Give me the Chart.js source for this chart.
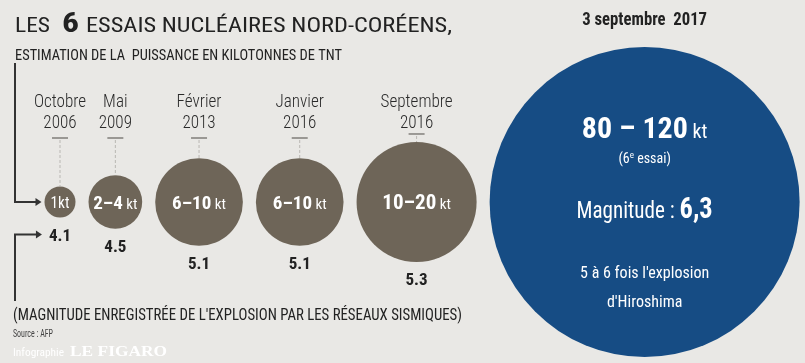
<!DOCTYPE html>
<html><head><meta charset="utf-8">
<script src="https://cdn.jsdelivr.net/npm/chart.js@4"></script>
<style>html,body{margin:0;padding:0;background:#e9e8e5;}canvas{display:block}</style>
</head><body><canvas id="c" width="805" height="363"></canvas>
<script>
// ---- data ----
const testMonths = ["Octobre", "Mai", "Février", "Janvier", "Septembre", "3 septembre"];
const testYears = ["2006", "2009", "2013", "2016", "2016", "2017"];
const yieldLow = [1, 2, 6, 6, 10, 80];      // kt
const yieldHigh = [1, 4, 10, 10, 20, 120];  // kt
const magnitudes = [4.1, 4.5, 5.1, 5.1, 5.3, 6.3];
const testOrder = [1, 2, 3, 4, 5, 6];

// ---- style ----
const BROWN = '#6e6558', BLUE = '#164c84', BG = '#e9e8e5', INK = '#222222';
const F = '"Roboto Condensed", Roboto, "Liberation Sans", sans-serif';
const K = 15.5;     // px per sqrt(kt): circle area proportional to yield
const GAP = 13, START = 60;
const CY = 0;

const radii = yieldLow.map((l, i) => K * Math.sqrt((l + yieldHigh[i]) / 2));
const xs = [];
radii.forEach((r, i) => xs.push(i === 0 ? START : xs[i - 1] + radii[i - 1] + r + GAP));
const points = xs.map((x, i) => ({ x: x, y: CY, r: radii[i] }));
const last = points.length - 1;

function txt(ctx, s, x, y, font, color, align, sx) {
  sx = sx || 1; align = align || 'left';
  ctx.save(); ctx.font = font; ctx.fillStyle = color; ctx.textBaseline = 'alphabetic'; ctx.textAlign = 'left';
  const w = ctx.measureText(s).width * sx;
  const x0 = align === 'center' ? x - w / 2 : align === 'right' ? x - w : x;
  ctx.translate(x0, y); ctx.scale(sx, 1); ctx.fillText(s, 0, 0); ctx.restore();
  return w;
}
function fit(ctx, s, x, y, font, color, width) {
  ctx.save(); ctx.font = font; const w = ctx.measureText(s).width; ctx.restore();
  return txt(ctx, s, x, y, font, color, 'left', width / w);
}
function width(ctx, s, font, sx) { ctx.save(); ctx.font = font; const w = ctx.measureText(s).width; ctx.restore(); return w * (sx || 1); }
function runs(ctx, parts, x, y, color, sx) {
  const total = parts.reduce((a, p) => a + width(ctx, p[0], p[1], sx), 0);
  let cx = x - total / 2;
  parts.forEach(p => { cx += txt(ctx, p[0], cx, y + (p[2] || 0), p[1], color, 'left', sx); });
}
function arrow(ctx, x, y) {
  ctx.beginPath(); ctx.moveTo(x, y); ctx.lineTo(x - 6, y - 4); ctx.lineTo(x - 6, y + 4); ctx.closePath(); ctx.fill();
}

const bgPlugin = {
  id: 'bg',
  beforeDraw(chart) { const c = chart.ctx; c.save(); c.fillStyle = BG; c.fillRect(0, 0, chart.width, chart.height); c.restore(); }
};

const textPlugin = {
  id: 'texts',
  afterDatasetsDraw(chart) {
    const ctx = chart.ctx;
    const els = chart.getDatasetMeta(0).data;
    fit(ctx, 'LES', 15, 32, '400 21px ' + F, INK, 35);
    fit(ctx, String(testOrder.length), 62, 32, '700 27px ' + F, INK, 17);
    fit(ctx, 'ESSAIS NUCLÉAIRES NORD-CORÉENS,', 86, 32, '400 21px ' + F, INK, 366);
    fit(ctx, 'ESTIMATION DE LA  PUISSANCE EN KILOTONNES DE TNT', 15, 60, '400 15px ' + F, INK, 327);

    els.forEach((el, i) => {
      const x = el.x, y = el.y, r = el.options.radius;
      const lo = yieldLow[i], hi = yieldHigh[i];
      if (i === last) {
        const d = testMonths[i] + '  ' + testYears[i];
        txt(ctx, d, x, 25, '700 19px ' + F, INK, 'center', 0.88);
        runs(ctx, [[lo + ' – ' + hi, '700 30px ' + F], [' kt', '400 20px ' + F]], x, y - 64, '#ffffff', 1);
        runs(ctx, [['(' + testOrder[i], '400 14px ' + F], ['e', '400 9px ' + F, -5], [' essai)', '400 14px ' + F]], x, y - 39, '#ffffff', 1);
        runs(ctx, [['Magnitude : ', '400 24px ' + F], [magnitudes[i].toFixed(1).replace('.', ','), '700 30px ' + F]], x, y + 16, '#ffffff', 0.88);
        txt(ctx, "5 à 6 fois l'explosion", x, y + 76, '400 16px ' + F, '#ffffff', 'center', 1);
        txt(ctx, "d'Hiroshima", x, y + 105, '400 16px ' + F, '#ffffff', 'center', 1);
        return;
      }
      txt(ctx, testMonths[i], x, 107, '300 18px ' + F, '#2a2a2a', 'center', 0.95);
      txt(ctx, testYears[i], x, 128, '300 18px ' + F, '#2a2a2a', 'center', 0.95);
      const top = y - r;
      const dy = Math.min(138, top - 8);
      ctx.save();
      ctx.strokeStyle = '#9a9894'; ctx.lineWidth = 2;
      ctx.beginPath(); ctx.moveTo(x - 8, dy); ctx.lineTo(x + 8, dy); ctx.stroke();
      ctx.strokeStyle = '#b9b7b3'; ctx.lineWidth = 1; ctx.setLineDash([3, 2]);
      ctx.beginPath(); ctx.moveTo(x, dy + 2); ctx.lineTo(x, top); ctx.stroke();
      ctx.restore();
      const num = lo === hi ? String(lo) : lo + '–' + hi;
      if (r < 20) {
        runs(ctx, [[num + 'kt', '400 16px ' + F]], x, y + 6, '#ffffff', 0.95);
      } else {
        const ns = r > 50 ? 21 : 19;
        runs(ctx, [[num, '700 ' + ns + 'px ' + F], [' kt', '400 15px ' + F]], x, y + 7, '#ffffff', 1);
      }
      txt(ctx, magnitudes[i].toFixed(1), x, y + r + 23, '700 17px ' + F, INK, 'center', 1);
    });

    const e0 = els[0];
    ctx.save();
    ctx.strokeStyle = '#333'; ctx.fillStyle = '#333'; ctx.lineWidth = 2;
    const tip1 = e0.x - e0.options.radius - 3;
    ctx.beginPath(); ctx.moveTo(15, 63); ctx.lineTo(15, e0.y); ctx.lineTo(tip1 - 4, e0.y); ctx.stroke();
    arrow(ctx, tip1, e0.y);
    const my = e0.y + e0.options.radius + 23 - 6;
    const mw = width(ctx, magnitudes[0].toFixed(1), '700 17px ' + F, 1);
    const tip2 = e0.x - mw / 2 - 7;
    ctx.beginPath(); ctx.moveTo(15, 301); ctx.lineTo(15, my); ctx.lineTo(tip2 - 4, my); ctx.stroke();
    arrow(ctx, tip2, my);
    ctx.restore();

    fit(ctx, "(MAGNITUDE ENREGISTRÉE DE L'EXPLOSION PAR LES RÉSEAUX SISMIQUES)", 13, 320, '400 17px ' + F, INK, 449);
    fit(ctx, 'Source : AFP', 13, 337, '400 10px ' + F, '#444', 40);
    fit(ctx, 'Infographie', 13, 356, '400 11px ' + F, '#ffffff', 51);
    fit(ctx, 'LE FIGARO', 70, 356, '700 15px "Liberation Serif", "DejaVu Serif", serif', '#ffffff', 97);
  }
};

new Chart(document.getElementById('c').getContext('2d'), {
  type: 'bubble',
  data: {
    datasets: [{
      data: points,
      backgroundColor: points.map((p, i) => i === last ? BLUE : BROWN),
      borderWidth: 0, hoverBorderWidth: 0, hoverRadius: 0,
      clip: false
    }]
  },
  options: {
    responsive: false, animation: false, events: [],
    layout: { padding: 0, autoPadding: false },
    plugins: { legend: { display: false }, tooltip: { enabled: false } },
    scales: {
      x: { type: 'linear', min: 0, max: 805, display: false },
      y: { type: 'linear', min: -161, max: 202, display: false }
    }
  },
  plugins: [bgPlugin, textPlugin]
});
</script>
</body></html>
